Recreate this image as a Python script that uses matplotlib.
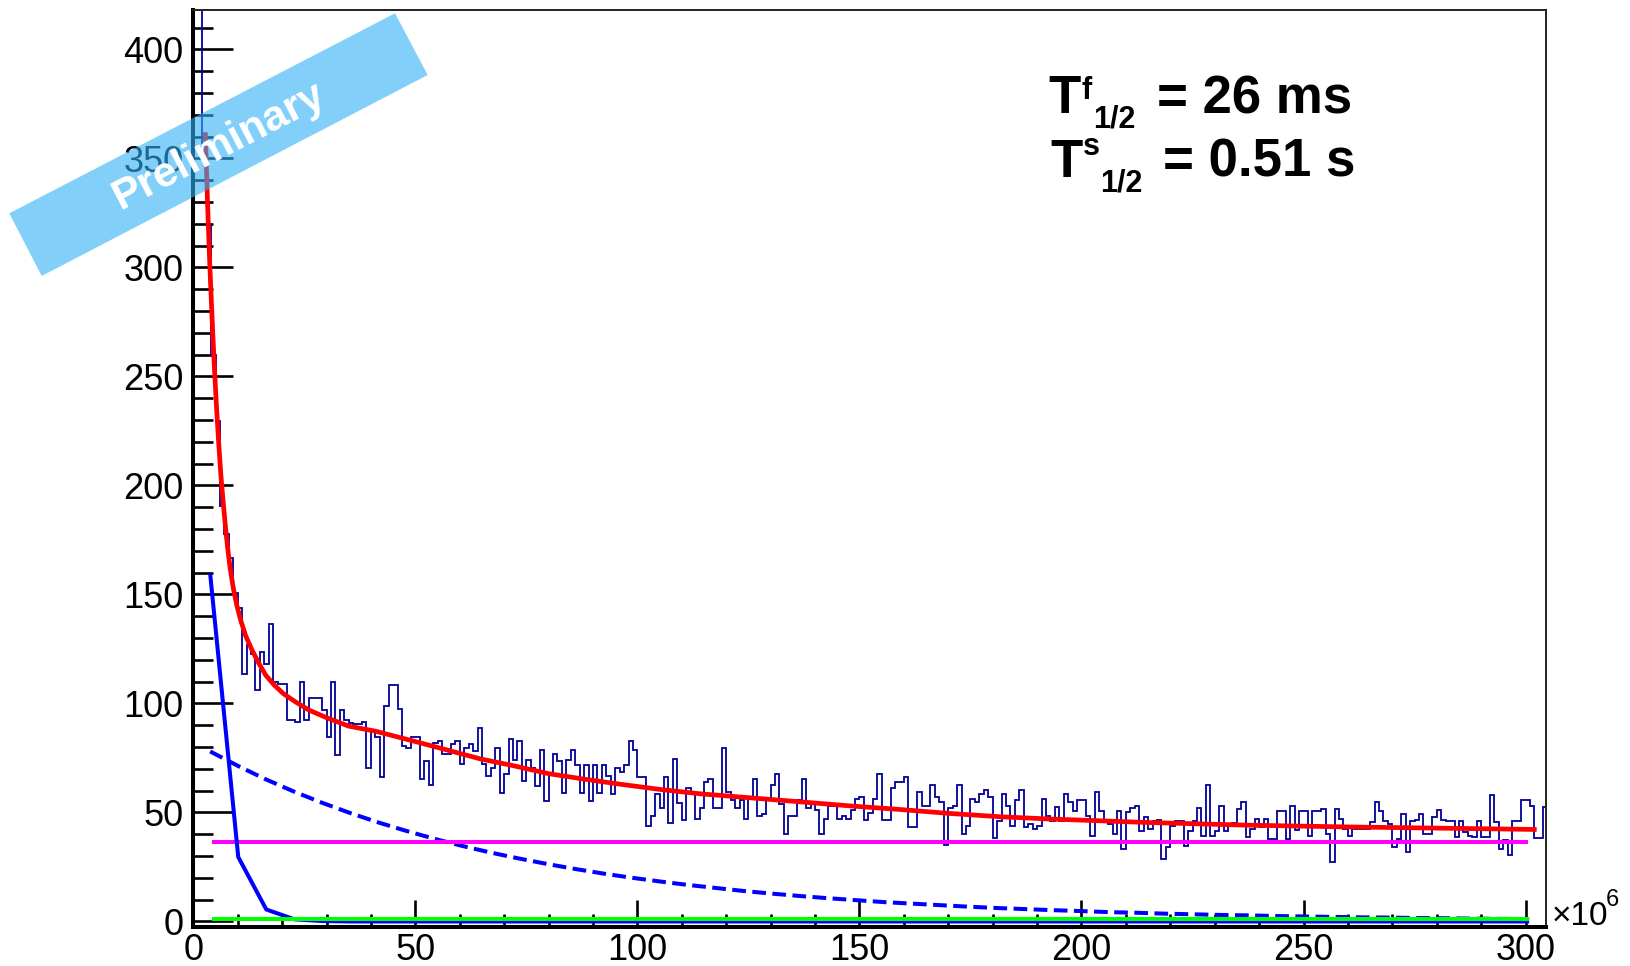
import numpy as np
import matplotlib
matplotlib.use("Agg")
import matplotlib.pyplot as plt
from matplotlib.patches import Polygon
from matplotlib.ticker import MultipleLocator

plt.rcParams['font.family'] = ['Liberation Sans', 'DejaVu Sans']

# ---------------- data ----------------
bin_width = 1.0   # x in units of 10^6
counts = [
    480, 480, 357, 319, 260, 229.5, 190.7, 177.8, 166.9, 150.9,
    144.0, 113.6, 126.6, 122.8, 106.3, 123.5, 118.2, 136.5, 109.8, 109.0,
    109.0, 92.2, 92.2, 91.5, 109.8, 92.5, 102.6, 102.6, 102.6, 96.8,
    84.6, 109.8, 76.2, 96.8, 92.5, 91.0, 90.7, 90.7, 91.5, 70.5,
    87.3, 84.6, 66.2, 98.8, 108.7, 108.7, 97.6, 80.7, 79.7, 84.6,
    84.6, 65.5, 73.6, 62.4, 81.8, 82.7, 76.6, 76.6, 81.5, 82.7,
    72.3, 79.7, 81.5, 78.2, 88.8, 72.3, 66.6, 70.5, 79.7, 59.1,
    67.5, 83.8, 74.3, 82.7, 64.4, 74.3, 70.5, 62.1, 78.8, 55.2,
    67.5, 76.6, 73.6, 59.1, 74.3, 78.8, 71.6, 59.1, 71.6, 55.2,
    71.6, 59.1, 71.6, 66.7, 58.6, 70.3, 68.5, 71.6, 82.7, 78.5,
    66.5, 66.5, 44.0, 48.2, 58.6, 52.2, 66.5, 45.1, 74.6, 54.3,
    46.4, 61.3, 59.3, 47.1, 52.2, 63.9, 65.5, 52.2, 52.2, 79.5,
    59.3, 55.5, 52.2, 55.5, 47.1, 57.3, 65.5, 48.6, 49.4, 55.5,
    62.4, 67.7, 54.0, 40.2, 48.6, 48.6, 55.5, 65.5, 52.2, 54.3,
    51.0, 40.2, 47.1, 53.2, 53.2, 47.1, 48.6, 47.1, 51.0, 56.3,
    57.3, 46.4, 49.7, 56.3, 67.7, 46.4, 46.4, 61.3, 63.9, 63.9,
    66.5, 43.5, 43.5, 59.3, 53.2, 53.2, 62.4, 57.0, 54.7, 35.3,
    52.1, 53.2, 62.4, 40.2, 44.0, 56.3, 54.7, 58.5, 60.1, 57.3,
    38.4, 46.0, 58.5, 53.2, 44.0, 55.5, 60.1, 43.3, 44.8, 42.5,
    44.0, 56.3, 48.6, 46.3, 52.4, 46.3, 58.5, 54.7, 50.9, 55.5,
    55.5, 48.6, 39.4, 59.3, 50.9, 46.3, 44.5, 40.2, 50.6, 33.4,
    50.1, 52.1, 53.2, 41.7, 47.8, 42.5, 46.3, 46.6, 28.7, 34.1,
    44.0, 46.3, 46.3, 34.4, 41.7, 46.3, 52.1, 39.4, 62.4, 39.4,
    41.7, 53.2, 41.7, 44.5, 45.1, 51.7, 54.7, 38.7, 42.5, 47.0,
    43.3, 47.1, 37.9, 37.9, 50.6, 50.6, 37.9, 52.8, 42.0, 50.6,
    50.6, 39.4, 50.6, 50.6, 51.7, 40.2, 27.2, 51.7, 47.1, 42.5,
    39.4, 42.5, 42.5, 42.5, 42.5, 45.5, 54.7, 50.6, 46.3, 44.8,
    34.1, 37.9, 49.1, 32.1, 46.3, 46.6, 49.4, 40.2, 40.2, 47.8,
    51.2, 46.6, 46.3, 46.3, 38.7, 46.3, 41.0, 39.4, 38.7, 46.3,
    38.7, 38.7, 58.0, 45.5, 33.4, 37.4, 30.3, 46.3, 46.3, 55.5,
    55.5, 53.2, 38.4, 38.4, 52.4,
]

# total fit (red)
red_x = [2.7, 3.2, 3.7, 4.2, 4.7, 5.2, 5.7, 6.2, 6.7, 7.2,
         7.7, 8.3, 9.0, 9.8, 10.7, 11.8, 13.1, 14.6, 16.3, 18.2,
         20.3, 22.8, 26, 30, 35, 41, 48, 56, 64.6, 72,
         80, 88, 96, 105, 114, 125, 136.6, 148, 159, 170,
         182, 193, 204, 215, 226, 237, 248, 259, 270, 281,
         292, 302.5]
red_y = [362, 330, 302, 278, 256, 237, 220, 205, 193, 182,
         172, 162, 153, 145, 138, 131, 125, 119, 113, 108.5,
         104.5, 101, 97, 93.5, 89.6, 87.3, 83.6, 79.3, 74.6, 71.5,
         67.8, 65.3, 63, 60.6, 58.6, 56.8, 54.9, 53, 51.4, 49.6,
         48, 47, 46.2, 45.4, 44.8, 44.2, 43.8, 43.4, 43.1, 42.8,
         42.5, 42.2]

# components sampled on the drawing grid of the fit
comp_x = np.linspace(3.8, 300.8, 48)
fast_y = [159.5, 29.6, 5.5, 1.0, 0.2, 0.0, 0.0, 0.0, 0.0, 0.0,
          0.0, 0.0, 0.0, 0.0, 0.0, 0.0, 0.0, 0.0, 0.0, 0.0,
          0.0, 0.0, 0.0, 0.0, 0.0, 0.0, 0.0, 0.0, 0.0, 0.0,
          0.0, 0.0, 0.0, 0.0, 0.0, 0.0, 0.0, 0.0, 0.0, 0.0,
          0.0, 0.0, 0.0, 0.0, 0.0, 0.0, 0.0, 0.0]
slow_y = [78.0, 71.3, 65.1, 59.5, 54.4, 49.7, 45.4, 41.5, 37.9, 34.6,
          31.6, 28.9, 26.4, 24.1, 22.0, 20.1, 18.4, 16.8, 15.4, 14.0,
          12.8, 11.7, 10.7, 9.8, 8.9, 8.2, 7.5, 6.8, 6.2, 5.7,
          5.2, 4.8, 4.3, 4.0, 3.6, 3.3, 3.0, 2.8, 2.5, 2.3,
          2.1, 1.9, 1.8, 1.6, 1.5, 1.3, 1.2, 1.1]
bkg_x = [4.1, 300.6]
bkg_y = [36.4, 36.4]
daughter_x = [4.1, 300.8]
daughter_y = [1.2, 1.2]

x_ticks = [0, 50, 100, 150, 200, 250, 300]
y_ticks = [0, 50, 100, 150, 200, 250, 300, 350, 400]

# ---------------- figure ----------------
W, H = 1630, 966
fig = plt.figure(figsize=(W / 100, H / 100), dpi=100)
L, R, T, B = 193.3, 1546, 10, 926.5
ax = fig.add_axes([L / W, 1 - B / H, (R - L) / W, (B - T) / H])

edges = np.arange(len(counts) + 1) * bin_width
ax.stairs(counts, edges, color='#000099', lw=1.3, zorder=2)
ax.plot(red_x, red_y, color='#ff0000', lw=3.4, zorder=4, solid_capstyle='butt')
ax.plot(comp_x, slow_y, color='#0000ff', lw=2.9, ls=(0, (3.4, 1.6)), zorder=3)
ax.plot(bkg_x, bkg_y, color='#ff00ff', lw=2.9, zorder=3, solid_capstyle='butt')
ax.plot(comp_x, fast_y, color='#0000ff', lw=2.9, zorder=3, solid_capstyle='butt')
ax.plot(daughter_x, daughter_y, color='#00ff00', lw=2.9, zorder=3, solid_capstyle='butt')

ax.set_xlim(0, 304.6)
ax.set_ylim(-2.3, 418.1)

ax.set_xticks(x_ticks)
ax.set_xticklabels([str(v) for v in x_ticks])
ax.set_yticks(y_ticks)
ax.set_yticklabels([str(v) for v in y_ticks])
ax.xaxis.set_minor_locator(MultipleLocator(10))
ax.yaxis.set_minor_locator(MultipleLocator(10))

ax.tick_params(axis='y', which='major', direction='in', length=28.8, width=1.9,
               labelsize=26, pad=7, right=False, left=True)
ax.tick_params(axis='y', which='minor', direction='in', length=14.4, width=1.9,
               right=False, left=True)
ax.tick_params(axis='x', which='major', direction='in', length=19.4, width=1.9,
               labelsize=26, pad=5, top=False, bottom=True)
ax.tick_params(axis='x', which='minor', direction='in', length=9.4, width=1.9,
               top=False, bottom=True)

for s in ['left', 'bottom']:
    ax.spines[s].set_linewidth(2.9)
    ax.spines[s].set_color('black')
for s in ['top', 'right']:
    ax.spines[s].set_linewidth(1.4)
    ax.spines[s].set_color('#222222')

# x10^6 exponent label
fig.text(1552 / W, 1 - 925 / H, '×10', fontsize=24, ha='left', va='baseline')
fig.text(1606 / W, 1 - 906 / H, '6', fontsize=17, ha='left', va='baseline')

# half-life annotations
bold = dict(weight='bold', ha='left', va='baseline')
fig.text(1048 / W, 1 - 113 / H, 'T', fontsize=38, **bold)
fig.text(1081 / W, 1 - 99 / H, 'f', fontsize=22, **bold)
fig.text(1093 / W, 1 - 127.3 / H, '1/2', fontsize=22, **bold)
fig.text(1156.7 / W, 1 - 113 / H, '= 26 ms', fontsize=38, **bold)

fig.text(1050 / W, 1 - 176.7 / H, 'T', fontsize=38, **bold)
fig.text(1083 / W, 1 - 155 / H, 's', fontsize=22, **bold)
fig.text(1100 / W, 1 - 191.7 / H, '1/2', fontsize=22, **bold)
fig.text(1163.3 / W, 1 - 176.7 / H, '= 0.51 s', fontsize=38, **bold)

# "Preliminary" banner
corners = [(9.3, 213.3), (395, 13.3), (427.7, 75), (41.7, 276)]
poly = Polygon([(x / W, 1 - y / H) for x, y in corners], closed=True,
               transform=fig.transFigure, facecolor='#2fb1f7', edgecolor='none',
               alpha=0.6, zorder=10)
fig.add_artist(poly)
fig.text(218.4 / W, 1 - 146 / H, 'Preliminary', fontsize=31, weight='bold',
         color='white', rotation=27.4, rotation_mode='anchor',
         ha='center', va='center', zorder=11)

fig.savefig('out.png', dpi=100)
